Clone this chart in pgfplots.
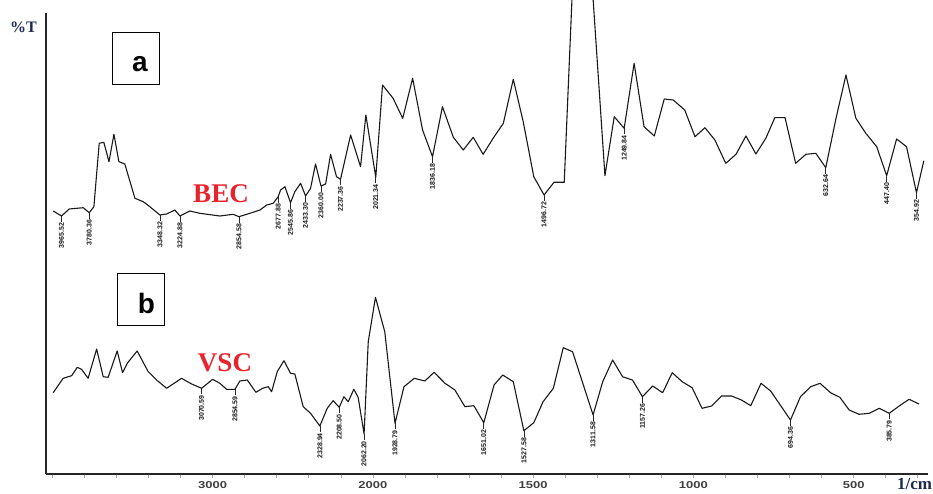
\documentclass[border=0pt]{standalone}
\usepackage{fontspec}
\setmainfont{Liberation Serif}
\newfontfamily\lsans{Liberation Sans}
\usepackage{pgfplots}
\pgfplotsset{compat=1.18}
\definecolor{navy}{HTML}{1F2A4F}
\definecolor{bred}{HTML}{E8232D}
\newcommand{\pk}[3]{\draw[black!85, line width=0.6pt] (axis cs:#1,#2) -- ++(0pt,-6pt) node[rotate=90, anchor=east, inner sep=0.8pt, text=black!90, font=\lsans\bfseries\fontsize{7}{7}\selectfont] {#3};}
\begin{document}
\begin{tikzpicture}
\useasboundingbox (0,0) rectangle (933pt,493pt);
\begin{axis}[
  at={(46pt,19pt)}, anchor=south west,
  scale only axis, width=882pt, height=461pt,
  x coord trafo/.code={\pgfmathparse{#1>2000 ? 2000+(#1-2000)/2 : #1}},
  x coord inv trafo/.code={\pgfmathparse{#1>2000 ? 2000+(#1-2000)*2 : #1}},
  x dir=reverse,
  xmin=268, xmax=4040, ymin=0, ymax=461,
  axis x line=bottom, axis y line=left,
  axis line style={-, line width=1.2pt, black!85},
  ytick=\empty,
  xtick={500,1000,1500,2000,3000},
  xticklabels={500,1000,1500,2000,3000},
  minor xtick={300,400,600,700,800,900,1100,1200,1300,1400,1600,1700,1800,1900,2200,2400,2600,2800,3200,3400,3600,3800,4000},
  tick align=outside,
  major tick length=4pt, minor tick length=4pt,
  tick style={black!35, line width=0.6pt},
  xticklabel style={font=\lsans\bfseries\fontsize{10}{10}\selectfont, text=black!75, xscale=1.3, inner sep=1pt, yshift=-2pt},
  clip=false,
]
\addplot[black!90, line width=1.1pt, line join=round] coordinates {
(3995,263)(3943,258)(3895,265)(3808,266.3)(3770,261.3)(3741,267.3)(3708,330.7)(3679,331.7)(3647,312.3)(3616,339.7)(3585,312.3)(3548,310)(3485,275.7)(3433,272.3)(3392,267.3)(3329,259)(3287,260)(3236,264)(3204,258)(3142,263)(3080,260.7)(2955,258)(2872,259.7)(2836,257.3)(2768,260.7)(2705,264)(2663,269)(2622,270.7)(2591,277.3)(2576,284)(2549,287.3)(2514,271.3)(2487,282.3)(2451,290.7)(2420,278)(2389,285.7)(2358,310)(2324,288)(2295,290)(2264,319.7)(2227,297.3)(2202,294.7)(2139,339)(2077,307.3)(2044,359)(1991,296.7)(1970,389)(1937,375.7)(1907,355.7)(1876,395.7)(1845,344)(1814,317.3)(1783,367.3)(1749,336.7)(1718,324)(1687,336.7)(1656,319.7)(1625,335.7)(1593,350.7)(1562,394.7)(1531,352.3)(1498,297.3)(1466,279)(1435,291.7)(1403,291.7)(1375,504)(1319,504)(1276,298.3)(1247,357.3)(1216,345.7)(1185,410.7)(1154,347.3)(1122,338)(1091,375)(1063,374)(1027,364)(995,337.3)(964,346.3)(933,334)(899,310.7)(867,319.7)(836,338)(805,320)(774,335.7)(746,356.3)(714,356.3)(681,310.7)(649,319.7)(618,320.7)(587,306.3)(555,355.7)(524,399)(493,355.7)(462,340.7)(428,327.3)(397,298.3)(366,335)(335,327.3)(304,281.3)(281,313.3)
};
\addplot[black!90, line width=1.1pt, line join=round] coordinates {
(3995,81.3)(3933,95.7)(3880,98.3)(3845,106.7)(3818,104.7)(3777,95.7)(3724,125)(3683,97.3)(3652,96.7)(3596,123)(3562,101.3)(3533,110.7)(3471,123)(3402,102.3)(3350,94)(3287,85.7)(3194,95.7)(3131,90)(3069,85.7)(3000,94.7)(2955,90.7)(2913,84.7)(2861,84.7)(2830,93)(2784,94)(2730,81.7)(2688,85.7)(2653,87.3)(2632,82.3)(2597,102.3)(2555,113.3)(2514,100.7)(2487,100)(2435,67.3)(2389,60.7)(2331,48)(2285,65.7)(2248,73.3)(2210,66.7)(2181,77.3)(2154,72.3)(2119,84.7)(2092,76.7)(2055,40)(2029,132.3)(1992,176.7)(1963,142.3)(1931,50.7)(1903,87.3)(1871,95.7)(1838,93)(1809,101.7)(1775,90.7)(1744,84)(1713,67.3)(1685,68.3)(1654,51.3)(1622,89)(1595,99)(1562,92.3)(1529,43.3)(1498,51.3)(1469,72.3)(1437,85.7)(1406,126.3)(1377,122.3)(1313,59)(1283,92.3)(1252,114)(1221,97.3)(1190,94)(1159,77.3)(1127,88)(1096,81.3)(1066,101.3)(1035,92.3)(1004,86.3)(973,65.7)(943,68)(912,78)(881,78)(850,74)(821,68.3)(789,90.7)(759,83)(697,54)(666,77.3)(634,87.3)(605,90.7)(572,81.3)(543,76.7)(514,64)(483,59.7)(451,60.7)(420,65.7)(389,60.7)(358,68)(327,74.7)(296,70)
};
% peak labels, trace a
\pk{3943}{258}{3965.52}
\pk{3770}{261.3}{3780.36}
\pk{3329}{259}{3348.32}
\pk{3204}{258}{3224.88}
\pk{2836}{257.3}{2854.58}
\pk{2591}{277.3}{2677.88}
\pk{2514}{271.3}{2545.86}
\pk{2420}{278}{2433.30}
\pk{2324}{288}{2360.00}
\pk{2202}{294.7}{2237.36}
\pk{1991}{296.7}{2021.34}
\pk{1814}{317.3}{1836.18}
\pk{1466}{279}{1496.72}
\pk{1216}{345.7}{1249.84}
\pk{587}{306.3}{632.64}
\pk{397}{298.3}{447.40}
\pk{304}{281.3}{354.92}
% peak labels, trace b
\pk{3069}{85.7}{3070.59}
\pk{2861}{84.7}{2854.59}
\pk{2331}{48}{2328.94}
\pk{2210}{66.7}{2208.50}
\pk{2055}{40}{2062.20}
\pk{1931}{50.7}{1928.79}
\pk{1654}{51.3}{1651.02}
\pk{1529}{43.3}{1527.58}
\pk{1313}{59}{1311.58}
\pk{1159}{77.3}{1157.26}
\pk{697}{54}{694.36}
\pk{389}{60.7}{385.79}
\end{axis}
\node[anchor=base west, inner sep=0pt, text=navy, font=\bfseries\fontsize{16}{16}\selectfont] at (10pt,460pt) {\%T};
\node[anchor=base west, inner sep=0pt, text=navy, font=\bfseries\fontsize{17}{17}\selectfont] at (897pt,4pt) {1/cm};
\node[inner sep=0pt, text=bred, font=\bfseries\fontsize{27}{27}\selectfont] at (221pt,299.3pt) {BEC};
\node[inner sep=0pt, text=bred, font=\bfseries\fontsize{27}{27}\selectfont] at (225pt,130pt) {VSC};
\draw[black, line width=0.9pt] (112.7pt,409pt) rectangle (159.3pt,460.7pt);
\node[anchor=base, inner sep=0pt, font=\lsans\bfseries\fontsize{28}{28}\selectfont] at (140pt,421.3pt) {a};
\draw[black, line width=0.9pt] (117.7pt,168pt) rectangle (164pt,219.7pt);
\node[anchor=base, inner sep=0pt, font=\lsans\bfseries\fontsize{28}{28}\selectfont] at (146.3pt,179.7pt) {b};
\end{tikzpicture}
\end{document}
